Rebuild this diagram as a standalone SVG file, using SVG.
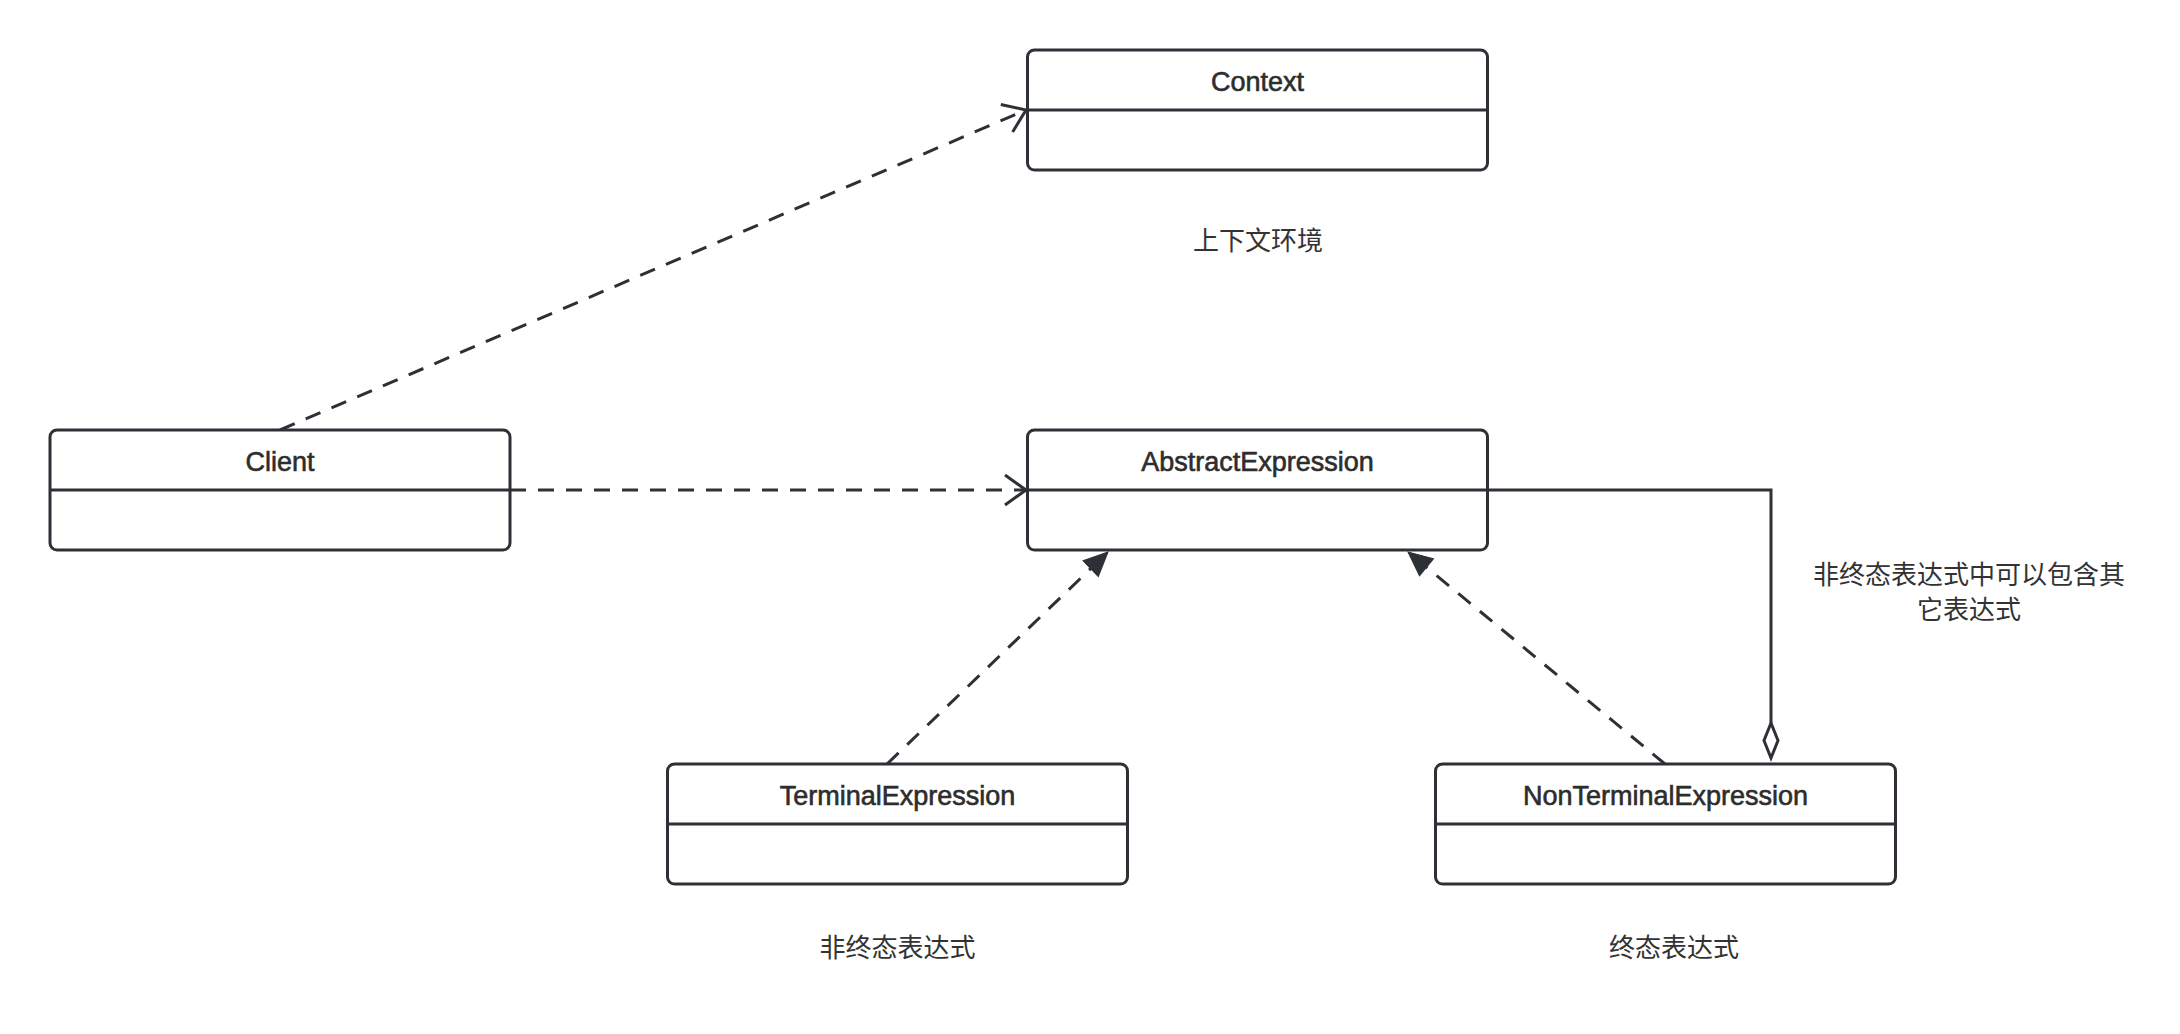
<svg xmlns="http://www.w3.org/2000/svg" width="2180" height="1034" viewBox="0 0 2180 1034">
<style>
.box{fill:#ffffff;stroke:#2d3136;stroke-width:3}
.div{stroke:#2d3136;stroke-width:3;fill:none}
.name{font-family:"Liberation Sans",Arial,sans-serif;font-size:27px;fill:#2d2d2d;stroke:#2d2d2d;stroke-width:0.6;text-anchor:middle}
.note{font-family:"Noto Sans CJK SC","Noto Sans",sans-serif;font-size:26px;fill:#333333;text-anchor:middle}
.dash{stroke:#2d3136;stroke-width:3;fill:none;stroke-dasharray:16 12}
.solid{stroke:#2d3136;stroke-width:3;fill:none}
</style>
<defs>
<marker id="open" markerUnits="userSpaceOnUse" markerWidth="40" markerHeight="40" viewBox="-30 -20 40 40" refX="0" refY="0" orient="auto">
<path d="M-21,-15 L0,0 L-21,15" fill="none" stroke="#2d3136" stroke-width="3"/>
</marker>
<marker id="tri" markerUnits="userSpaceOnUse" markerWidth="40" markerHeight="40" viewBox="-30 -20 40 40" refX="0" refY="0" orient="auto">
<path d="M0,0 L-24,-11 L-24,11 Z" fill="#2d3136" stroke="#2d3136" stroke-width="1"/>
</marker>
</defs>
<rect width="2180" height="1034" fill="#ffffff"/>
<g id="connectors">
<line class="dash" x1="280" y1="430" x2="1026" y2="110" marker-end="url(#open)"/>
<line class="dash" x1="510" y1="490" x2="1026" y2="490" marker-end="url(#open)"/>
<line class="dash" x1="887" y1="764" x2="1108" y2="552" marker-end="url(#tri)"/>
<line class="dash" x1="1665" y1="764" x2="1408" y2="552" marker-end="url(#tri)"/>
<polyline class="solid" points="1487.5,490 1771,490 1771,723"/>
<path d="M1771,723 L1778,740.5 L1771,758 L1764,740.5 Z" fill="#ffffff" stroke="#2d3136" stroke-width="3"/>
</g>
<g id="node-context">
<rect class="box" x="1027.5" y="50" width="460" height="120" rx="7"/>
<line class="div" x1="1027.5" y1="110" x2="1487.5" y2="110"/>
<text class="name" x="1257.5" y="91">Context</text>
</g>
<g id="node-client">
<rect class="box" x="50" y="430" width="460" height="120" rx="7"/>
<line class="div" x1="50" y1="490" x2="510" y2="490"/>
<text class="name" x="280" y="471">Client</text>
</g>
<g id="node-abstract">
<rect class="box" x="1027.5" y="430" width="460" height="120" rx="7"/>
<line class="div" x1="1027.5" y1="490" x2="1487.5" y2="490"/>
<text class="name" x="1257.5" y="471">AbstractExpression</text>
</g>
<g id="node-terminal">
<rect class="box" x="667.5" y="764" width="460" height="120" rx="7"/>
<line class="div" x1="667.5" y1="824" x2="1127.5" y2="824"/>
<text class="name" x="897.5" y="805">TerminalExpression</text>
</g>
<g id="node-nonterminal">
<rect class="box" x="1435.5" y="764" width="460" height="120" rx="7"/>
<line class="div" x1="1435.5" y1="824" x2="1895.5" y2="824"/>
<text class="name" x="1665.5" y="805">NonTerminalExpression</text>
</g>
<g id="labels">
<text class="note" x="1258" y="250">上下文环境</text>
<text class="note" x="897.5" y="957">非终态表达式</text>
<text class="note" x="1674" y="957">终态表达式</text>
<text class="note" x="1969" y="584">非终态表达式中可以包含其</text>
<text class="note" x="1969" y="619">它表达式</text>
</g>
</svg>
